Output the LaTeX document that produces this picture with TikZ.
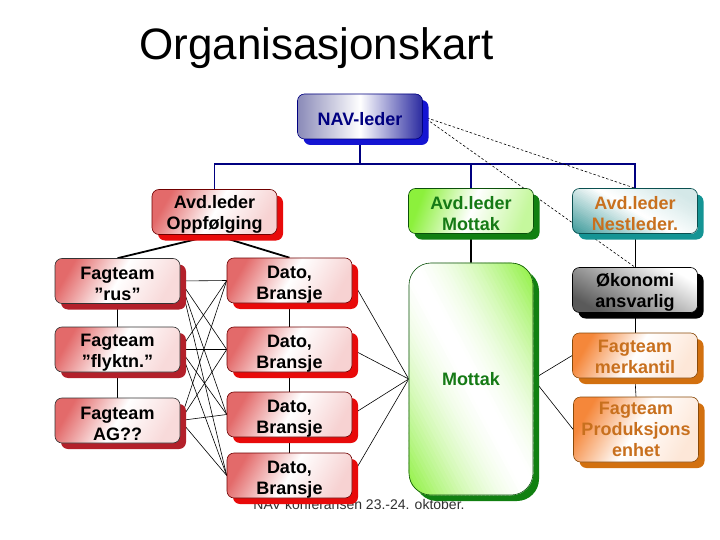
\documentclass[tikz,border=0pt]{standalone}
\usepackage{fontspec}
\setmainfont{Liberation Sans}
\usetikzlibrary{shadows}
\pgfdeclarelayer{background}
\pgfsetlayers{background,main}
\definecolor{navy}{HTML}{000080}
\definecolor{navshadow}{HTML}{1414D2}
\definecolor{navleft}{HTML}{8A8AB8}
\definecolor{navright}{HTML}{2A2AA0}
\definecolor{redshadow}{HTML}{E80A0A}
\definecolor{darkredshadow}{HTML}{B3202A}
\definecolor{pinkfill}{HTML}{E36A6A}
\definecolor{redborder}{HTML}{700000}
\definecolor{greenshadow}{HTML}{118011}
\definecolor{greenfill}{HTML}{8CF03C}
\definecolor{greentext}{HTML}{157A15}
\definecolor{greenborder}{HTML}{0A500A}
\definecolor{tealshadow}{HTML}{149494}
\definecolor{tealfill}{HTML}{3A9898}
\definecolor{tealborder}{HTML}{0A5050}
\definecolor{orangetext}{HTML}{C8701E}
\definecolor{orangeshadow}{HTML}{D2700F}
\definecolor{orangefill}{HTML}{F5873A}
\definecolor{orangeborder}{HTML}{8A4A0A}
\definecolor{grayfill}{HTML}{5A5A5A}
\definecolor{footergray}{HTML}{303030}
\newcommand{\bxs}[1]{\rule{0pt}{#1pt}}
% symmetric diagonal gradient: node, radius, angle, half range, colour
\newcommand{\symgrad}[5]{%
  \begin{scope}
    \clip[rounded corners=#2] (#1.north west) rectangle (#1.south east);
    \begin{scope}[shift={(#1.center)}, rotate=#3]
      \foreach \k in {-40,...,39}{
        \pgfmathsetmacro\ua{\k*#4*1.3/40}
        \pgfmathsetmacro\ub{(\k+1)*#4*1.3/40+0.6}
        \pgfmathtruncatemacro\pc{min(100,(abs((\k+0.5)*1.3/40))^1.6*100)}
        \fill[#5!\pc!white] (\ua,-300) rectangle (\ub,300);
      }
    \end{scope}
  \end{scope}}
% one-sided diagonal gradient: node, radius, angle, half range, colour
\newcommand{\onegrad}[5]{%
  \begin{scope}
    \clip[rounded corners=#2] (#1.north west) rectangle (#1.south east);
    \begin{scope}[shift={(#1.center)}, rotate=#3]
      \foreach \k in {-40,...,39}{
        \pgfmathsetmacro\ua{\k*#4*1.3/40}
        \pgfmathsetmacro\ub{(\k+1)*#4*1.3/40+0.6}
        \pgfmathsetmacro\uu{(\k+0.5)*1.3/40}
        \pgfmathtruncatemacro\pc{(\uu<0) ? min(100,-\uu*100) : min(22,\uu*30)}
        \fill[#5!\pc!white] (\ua,-300) rectangle (\ub,300);
      }
    \end{scope}
  \end{scope}}
\tikzset{
  box/.style={rounded corners=7pt, minimum width=125pt, minimum height=45pt,
    inner sep=0pt, align=center, line width=0.6pt,
    font=\fontsize{18}{21}\selectfont\bfseries},
  shad/.style={general shadow={fill=#1, shadow xshift=6pt, shadow yshift=-6pt}},
  navbox/.style={box, shad=navshadow, draw=navy, left color=navleft,
    right color=navright, middle color=white, shading angle=90, text=navy},
  redbox/.style={box, shad=redshadow, draw=redborder, left color=pinkfill,
    right color=pinkfill!30, middle color=white, shading angle=60, text=black},
  fagbox/.style={box, shad=darkredshadow, draw=black!80, left color=pinkfill,
    right color=pinkfill!25, middle color=white, shading angle=60, text=black},
  greenbox/.style={box, shad=greenshadow, draw=greenborder, left color=greenfill,
    right color=greenfill!50, middle color=white, shading angle=70, text=greentext},
  graybox/.style={box, shad=black, draw=black, top color=white,
    bottom color=grayfill, shading angle=-30, text=black},
  orangebox/.style={box, shad=orangeshadow, draw=orangeborder, left color=orangefill,
    right color=orangefill!20, middle color=white, shading angle=60, text=orangetext},
  navline/.style={draw=navy, line width=1.8pt},
  thickline/.style={draw=black, line width=1.8pt},
  thinline/.style={draw=black, line width=0.6pt},
  dashline/.style={draw=black, line width=0.6pt, dash pattern=on 2.5pt off 2pt},
}
\begin{document}
\begin{tikzpicture}[x=1pt,y=-1pt]
\useasboundingbox (0,0) rectangle (720,540);
% title
\node[anchor=base, font=\fontsize{44}{50}\selectfont, inner sep=0pt] (title) at (316.5,60) {Organisasjonskart};
% boxes
\node[navbox] (nav) at (360,116.5) {\bxs{18}NAV-leder};
\node[redbox] (opp) at (214.5,212) {\bxs{18.5}Avd.leder\\Oppfølging};
\node[greenbox] (amot) at (471,211) {\bxs{18.5}Avd.leder\\Mottak};
% Nestleder: background, gradient, then framed text node
\node[box, shad=tealshadow, fill=white] (nestbg) at (635,211) {};
\onegrad{nestbg}{7pt}{60}{50}{tealfill}
\node[box, draw=tealborder, text=orangetext] (nest) at (635,211) {\bxs{18.5}Avd.leder\\Nestleder.};
\node[fagbox] (rus) at (117.5,281) {\bxs{18.5}Fagteam\\”rus”};
\node[fagbox] (fly) at (117.5,349.5) {\bxs{18.5}Fagteam\\”flyktn.”};
\node[fagbox] (ag) at (117.5,420.5) {\bxs{18.5}Fagteam\\AG??};
\node[redbox] (d1) at (289.5,280.5) {\bxs{20}Dato,\\Bransje};
\node[redbox] (d2) at (289.5,349.5) {\bxs{20}Dato,\\Bransje};
\node[redbox] (d3) at (289.5,414.5) {\bxs{20}Dato,\\Bransje};
\node[redbox] (d4) at (289.5,475.5) {\bxs{20}Dato,\\Bransje};
% Mottak: background, gradient, then framed text node
\node[box, shad=greenshadow, fill=white, minimum width=124pt, minimum height=232pt,
  rounded corners=22pt] (mottakbg) at (471,379) {};
\symgrad{mottakbg}{22pt}{28}{108}{greenfill}
\node[box, draw=greenborder, text=greentext, minimum width=124pt, minimum height=232pt,
  rounded corners=22pt] (mottak) at (471,379) {Mottak};
\node[graybox] (oko) at (635,290) {\bxs{17.5}Økonomi\\ansvarlig};
\node[orangebox] (merk) at (635,355.5) {\bxs{16}Fagteam\\merkantil};
\node[orangebox, minimum height=65pt] (prod) at (636,429.5) {Fagteam\\Produksjons\\enhet};
\coordinate (hl) at (360,164);
\begin{pgfonlayer}{background}
\fill[white] (0,0) rectangle (720,540);
\node[anchor=base, font=\fontsize{14}{16}\selectfont, text=footergray, inner sep=0pt] (foot) at (359,509) {NAV konferansen 23.-24. oktober.};
% navy hierarchy
\draw[navline] (nav.south) -- (nav.south |- hl);
\draw[navline] (opp.north) -- (opp.north |- hl) -| (nest.north);
\draw[navline] (amot.north) -- (amot.north |- hl);
% dashed
\draw[dashline] (nav.east) -- (nest.north);
\draw[dashline] (nav.east) -- (oko.north);
% left tree
\draw[thickline] (opp.south) -- (rus.north);
\draw[thickline] (opp.south) -- (d1.north);
\draw[thinline] (rus.south) -- (fly.north);
\draw[thinline] (fly.south) -- (ag.north);
\draw[thickline] (d1.south) -- (d2.north);
\draw[thickline] (d2.south) -- (d3.north);
\draw[thickline] (d3.south) -- (d4.north);
\foreach \a in {rus,fly,ag}{
  \foreach \b in {d1,d2,d3,d4}{
    \draw[thinline] (\a.east) -- (\b.west);
  }
}
\foreach \b in {d1,d2,d3,d4}{
  \draw[thinline] (\b.east) -- (mottak.west);
}
\draw[thickline] (amot.south) -- (mottak.north);
% right tree
\draw[thinline] (nest.south) -- (oko.north);
\draw[thinline] (oko.south) -- (merk.north);
\draw[thinline] (merk.south) -- (prod.north);
\draw[thinline] (mottak.east) -- (merk.west);
\draw[thinline] (mottak.east) -- (prod.west);
\end{pgfonlayer}
\end{tikzpicture}
\end{document}
